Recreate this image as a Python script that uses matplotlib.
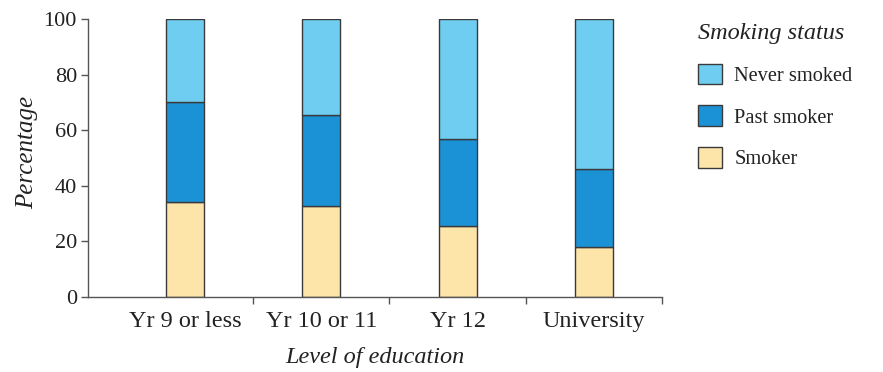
import matplotlib.pyplot as plt
from matplotlib.patches import Patch

EDUCATION = ["Yr 9 or less", "Yr 10 or 11", "Yr 12", "University"]
SMOKER = [34.0, 32.8, 25.6, 18.0]
PAST_SMOKER = [36.2, 32.6, 31.1, 28.2]
NEVER_SMOKED = [29.8, 34.6, 43.3, 53.8]

COLORS = {
    "Never smoked": "#6fcdf2",
    "Past smoker": "#1b92d6",
    "Smoker": "#fde4a8",
}
EDGE = "#3a3a3a"

plt.rcParams["font.family"] = ["Liberation Serif", "DejaVu Serif"]

fig = plt.figure(figsize=(8.83, 3.72), dpi=100)
ax = fig.add_axes([0.0997, 0.2016, 0.6503, 0.7474])

x = list(range(len(EDUCATION)))
width = 0.28
bottom_past = SMOKER
bottom_never = [s + p for s, p in zip(SMOKER, PAST_SMOKER)]

ax.bar(x, SMOKER, width, color=COLORS["Smoker"], edgecolor=EDGE, linewidth=1)
ax.bar(x, PAST_SMOKER, width, bottom=bottom_past,
       color=COLORS["Past smoker"], edgecolor=EDGE, linewidth=1)
ax.bar(x, NEVER_SMOKED, width, bottom=bottom_never,
       color=COLORS["Never smoked"], edgecolor=EDGE, linewidth=1)

ax.set_xlim(-0.71, 3.5)
ax.set_ylim(0, 100)
ax.set_yticks([0, 20, 40, 60, 80, 100])
ax.set_xticks(x)
ax.set_xticklabels(EDUCATION)
ax.set_xticks([0.5, 1.5, 2.5, 3.5], minor=True)
ax.tick_params(axis="x", which="major", length=0, labelsize=17.5, pad=10,
               labelcolor="#222222")
ax.tick_params(axis="x", which="minor", length=5, width=1, color="#555555")
ax.tick_params(axis="y", length=5, width=1, color="#555555", labelsize=16,
               pad=3, labelcolor="#222222")

for side in ("top", "right"):
    ax.spines[side].set_visible(False)
for side in ("left", "bottom"):
    ax.spines[side].set_color("#555555")
    ax.spines[side].set_linewidth(1)

ax.set_ylabel("Percentage", fontsize=18, style="italic", color="#222222")
ax.yaxis.set_label_coords(-0.087, 0.52)
ax.set_xlabel("Level of education", fontsize=17.5, style="italic", labelpad=11,
              color="#222222")

handles = [Patch(facecolor=COLORS[k], edgecolor=EDGE, label=k)
           for k in ("Never smoked", "Past smoker", "Smoker")]
leg = ax.legend(handles=handles, title="Smoking status", loc="upper left",
                bbox_to_anchor=(1.063, 0.985), frameon=False, fontsize=14.7,
                title_fontsize=17.5, handlelength=1.15, handleheight=1.2,
                handletextpad=0.6, labelspacing=0.95, alignment="left",
                borderpad=0, borderaxespad=0)
leg.get_title().set_style("italic")
for text in leg.get_texts():
    text.set_color("#222222")
leg.get_title().set_color("#222222")

fig.savefig("out.png", dpi=100)
